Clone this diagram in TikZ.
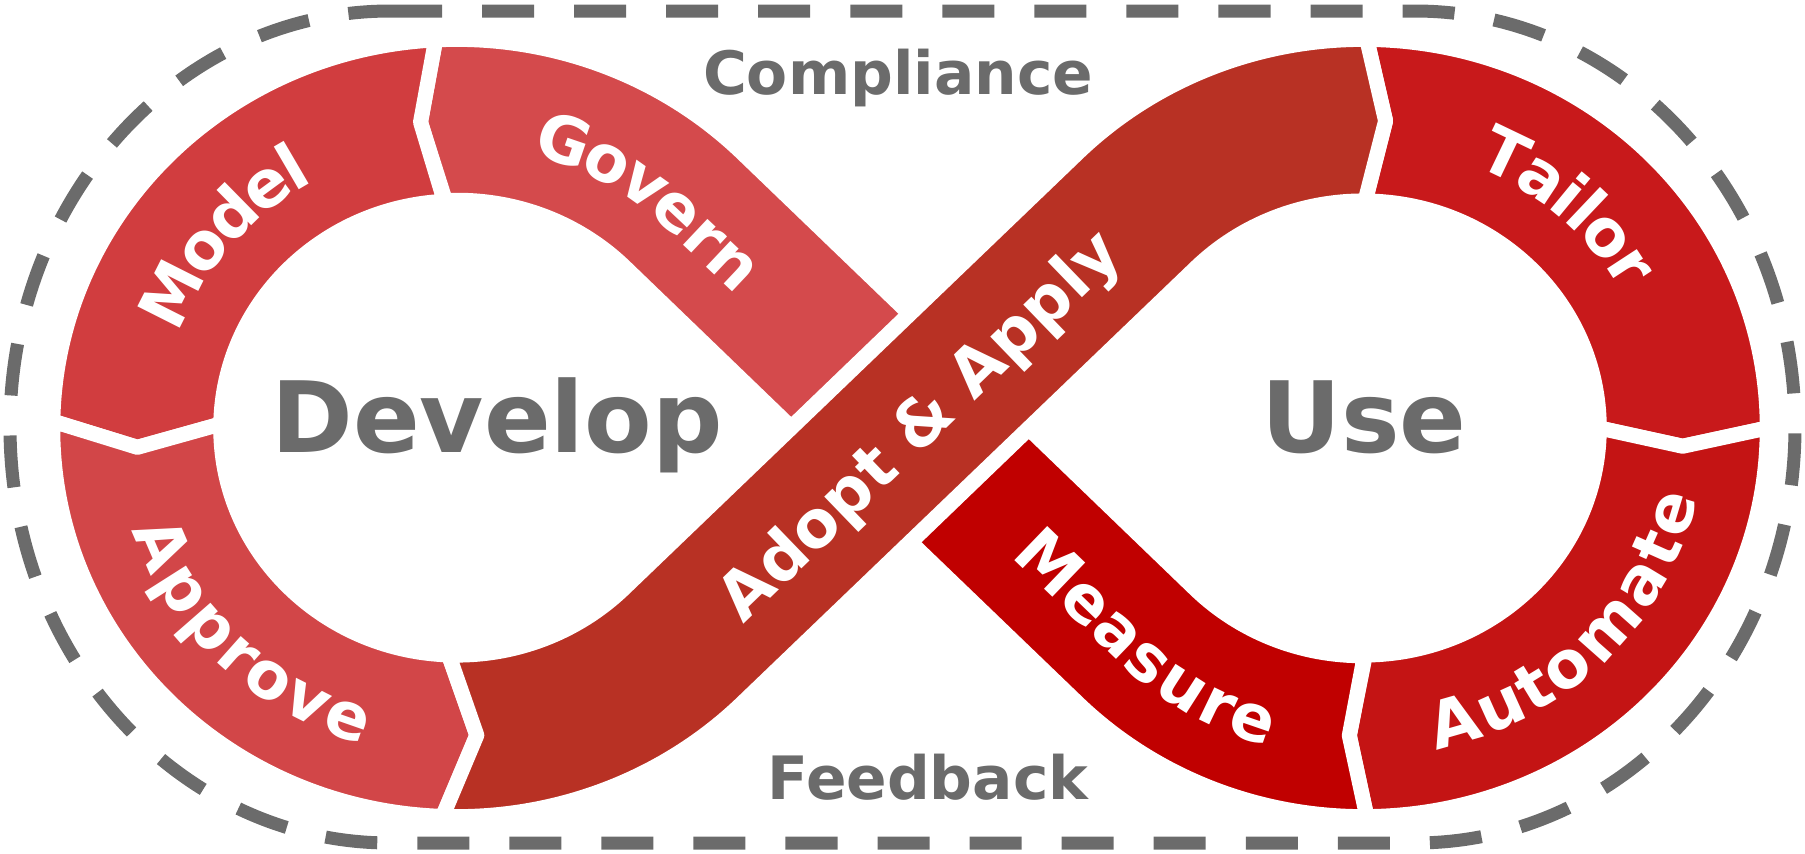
\documentclass[tikz,border=0pt]{standalone}
\usepackage{fontspec}
\setmainfont{DejaVu Sans}
\usetikzlibrary{decorations.text}
\definecolor{modelred}{HTML}{D13D3F}
\definecolor{governred}{HTML}{D44A4C}
\definecolor{approvered}{HTML}{D24648}
\definecolor{adoptred}{HTML}{B83124}
\definecolor{tailorred}{HTML}{C8191B}
\definecolor{automatered}{HTML}{C41414}
\definecolor{measurered}{HTML}{C00000}
\definecolor{framegray}{HTML}{6B6B6B}
\newcommand\bandfont{\fontsize{18.5}{18.5}\selectfont\bfseries\color{white}}

\begin{document}
\begin{tikzpicture}[x=0.01cm,y=0.01cm,
    seg/.style={draw=white,line width=0.15cm,line join=round},
    bandlabel/.style={decorate,decoration={text along path,text align=center,raise=-6.7pt,text={#1}}},
    bandtext/.style={text=white,font=\bandfont},
    loopname/.style={text=framegray,font=\fontsize{28}{28}\selectfont\bfseries},
    sidetext/.style={text=framegray,font=\fontsize{17}{17}\selectfont\bfseries}]
        \useasboundingbox (0,0) rectangle (1805,853) ;
        % dashed frame
        \draw[framegray,line width=0.13cm,dash pattern=on 0.52cm off 0.4cm]
        (390,842) -- (1415,842) arc[start angle=90,end angle=-90,x radius=380,y radius=416]
        -- (390,10) arc[start angle=270,end angle=90,x radius=380,y radius=416] -- cycle ;
        \begin{scope}[shift={(910,425)},yscale=0.962]
        % left loop
        \path[seg,fill=governred] ([xshift=-4.53cm]93:404) arc[start angle=93,end angle=45,radius=404]
        -- (-0.7,118.8) -- (-118.8,0.7) -- (-285.4,167.6)
        arc[start angle=45,end angle=93,radius=236] -- ([xshift=-4.53cm]96.5:320) -- cycle ;
        \path[seg,fill=modelred] ([xshift=-4.53cm]93:404) arc[start angle=93,end angle=179,radius=404]
        -- ([xshift=-4.53cm]183.6:320) -- ([xshift=-4.53cm]179:236)
        arc[start angle=179,end angle=93,radius=236] -- ([xshift=-4.53cm]96.5:320) -- cycle ;
        \path[seg,fill=approvered] ([xshift=-4.53cm]179:404) arc[start angle=179,end angle=268,radius=404]
        -- ([xshift=-4.53cm]273.6:320) -- ([xshift=-4.53cm]268:236)
        arc[start angle=268,end angle=179,radius=236] -- ([xshift=-4.53cm]183.6:320) -- cycle ;
        % right loop
        \path[seg,fill=tailorred] ([xshift=4.53cm]89.5:404) arc[start angle=89.5,end angle=0,radius=404]
        -- ([xshift=4.53cm]-3.4:320) -- ([xshift=4.53cm]0:236)
        arc[start angle=0,end angle=89.5,radius=236] -- ([xshift=4.53cm]86:320) -- cycle ;
        \path[seg,fill=automatered] ([xshift=4.53cm]0:404) arc[start angle=0,end angle=-89.5,radius=404]
        -- ([xshift=4.53cm]-92.5:320) -- ([xshift=4.53cm]-89.5:236)
        arc[start angle=-89.5,end angle=0,radius=236] -- ([xshift=4.53cm]-3.4:320) -- cycle ;
        \path[seg,fill=measurered] ([xshift=4.53cm]-89.5:404) arc[start angle=-89.5,end angle=-135,radius=404]
        -- (0.7,-118.8) -- (118.8,-0.7) -- (285.4,-167.6)
        arc[start angle=-135,end angle=-89.5,radius=236] -- ([xshift=4.53cm]-92.5:320) -- cycle ;
        % crossing band on top
        \path[seg,fill=adoptred] ([xshift=-4.53cm]268:404) arc[start angle=268,end angle=315,radius=404]
        -- (286.1,166.9) arc[start angle=135,end angle=89.5,radius=236]
        -- ([xshift=4.53cm]86:320) -- ([xshift=4.53cm]89.5:404)
        arc[start angle=89.5,end angle=135,radius=404] -- (-286.1,-166.9)
        arc[start angle=315,end angle=268,radius=236] -- ([xshift=-4.53cm]273.6:320) -- cycle ;
        \end{scope}
        % curved labels along the bands
        \path[bandlabel={|\bandfont|Model}] ([xshift=4.57cm,yshift=4.25cm]180:318 and 306)
        arc[start angle=180,end angle=100,x radius=318,y radius=306] ;
        \path[bandlabel={|\bandfont|Govern}] ([xshift=4.57cm,yshift=4.25cm]87.3:318 and 306)
        arc[start angle=87.3,end angle=45,x radius=318,y radius=306] -- (801.5,529.1) ;
        \path[bandlabel={|\bandfont|Approve}] ([xshift=4.57cm,yshift=4.25cm]175:318 and 306)
        arc[start angle=175,end angle=276,x radius=318,y radius=306] ;
        \path[bandlabel={|\bandfont|Tailor}] ([xshift=13.63cm,yshift=4.25cm]90:318 and 306)
        arc[start angle=90,end angle=6,x radius=318,y radius=306] ;
        \path[bandlabel={|\bandfont|Automate}] ([xshift=13.63cm,yshift=4.25cm]-99.6:318 and 306)
        arc[start angle=-99.6,end angle=10.4,x radius=318,y radius=306] ;
        \path[bandlabel={|\bandfont|Measure}] (996.6,342.0) -- (1136.7,207.2)
        arc[start angle=225,end angle=261.8,x radius=318,y radius=306] ;
        \node[bandtext,rotate=44] (adopt) at (922,425) {Adopt \& Apply} ;
        \node[loopname,anchor=base] (develop) at (497,401) {Develop} ;
        \node[loopname,anchor=base] (use) at (1364,401) {Use} ;
        \node[sidetext] (compliance) at (898,775) {Compliance} ;
        \node[sidetext] (feedback) at (928,76) {Feedback} ;
\end{tikzpicture}
\end{document}
